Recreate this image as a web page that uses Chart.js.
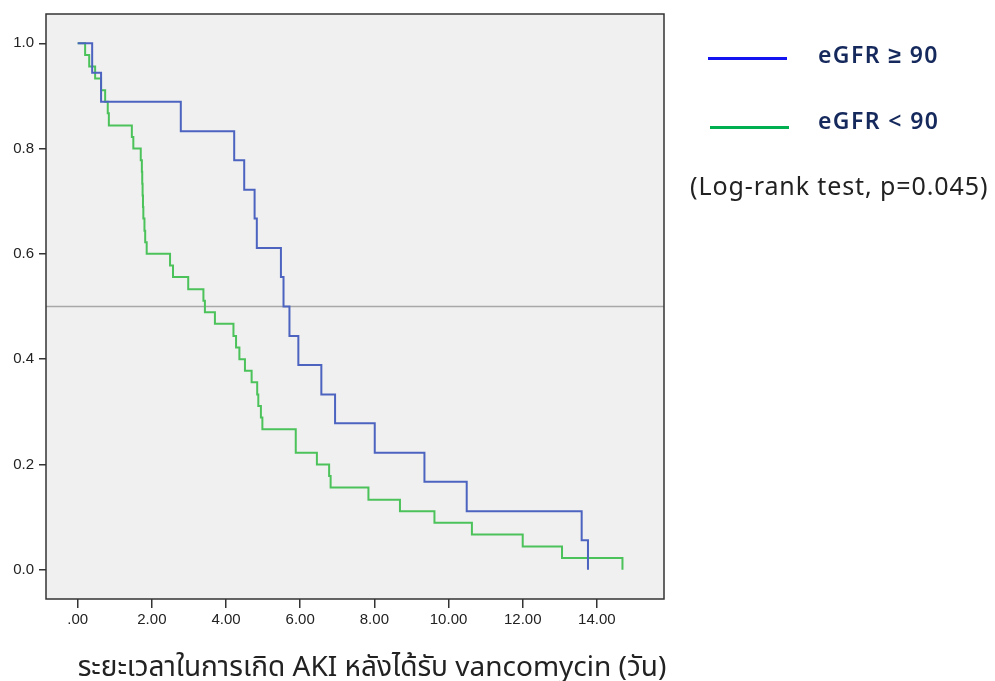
<!DOCTYPE html>
<html>
<head>
<meta charset="utf-8">
<script src="https://cdn.jsdelivr.net/npm/chart.js@4"></script>
<style>
  body { margin: 0; background: #fff; }
  #wrap { position: relative; width: 995px; height: 681px; }
  canvas { position: absolute; left: 0; top: 0; }
  .lg-line { position: absolute; height: 3px; }
  .lg-text { position: absolute; font-family: "Noto Sans", sans-serif; font-size: 23px; font-weight: 600; letter-spacing: 1.4px; color: #15295c; line-height: 28px; white-space: nowrap; }
  #logrank { position: absolute; left: 690px; top: 169px; font-family: "Noto Sans", sans-serif; font-size: 25px; letter-spacing: 0.9px; color: #222; line-height: 32px; white-space: nowrap; }
  #xtitle { position: absolute; left: 0; width: 744px; top: 647px; text-align: center; font-family: "Noto Sans", "Noto Sans Thai", sans-serif; font-size: 28px; color: #222; line-height: 36px; white-space: nowrap; }
</style>
</head>
<body>
<div id="wrap">
  <canvas id="km" width="995" height="681"></canvas>
  <div class="lg-line" style="left:708px; top:57px; width:79px; background:#1414f0;"></div>
  <div class="lg-text" style="left:818px; top:40px;">eGFR ≥ 90</div>
  <div class="lg-line" style="left:710px; top:126px; width:79px; background:#00b050;"></div>
  <div class="lg-text" style="left:818px; top:106px;">eGFR &lt; 90</div>
  <div id="logrank">(Log-rank test, p=0.045)</div>
  <div id="xtitle">ระยะเวลาในการเกิด AKI หลังได้รับ vancomycin (วัน)</div>
</div>
<script>
// survival times (days) and survival proportion after each event
const blueTimes = [0, 0.39, 0.63, 2.78, 4.22, 4.49, 4.77, 4.83, 5.48, 5.55, 5.71, 5.95, 6.57, 6.94, 8.01, 9.35, 10.49, 13.59, 13.76];
const blueSurv = [1.000, 0.944, 0.889, 0.833, 0.778, 0.722, 0.667, 0.611, 0.556, 0.500, 0.444, 0.389, 0.333, 0.278, 0.222, 0.167, 0.111, 0.056, 0.000];

const greenTimes = [0, 0.20, 0.31, 0.47, 0.63, 0.74, 0.81, 0.84, 1.46, 1.50, 1.70, 1.73, 1.74, 1.75, 1.76, 1.77, 1.80, 1.82, 1.86, 2.49, 2.57, 2.98, 3.39, 3.43, 3.70, 4.20, 4.27, 4.36, 4.51, 4.69, 4.84, 4.87, 4.94, 4.98, 5.88, 6.45, 6.78, 6.82, 7.84, 8.69, 9.62, 10.63, 12.00, 13.06, 14.69];
const greenSurv = [1.000, 0.978, 0.956, 0.933, 0.911, 0.889, 0.867, 0.844, 0.822, 0.800, 0.778, 0.756, 0.733, 0.711, 0.689, 0.667, 0.644, 0.622, 0.600, 0.578, 0.556, 0.533, 0.511, 0.489, 0.467, 0.444, 0.422, 0.400, 0.378, 0.356, 0.333, 0.311, 0.289, 0.267, 0.222, 0.200, 0.178, 0.156, 0.133, 0.111, 0.089, 0.067, 0.044, 0.022, 0.000];

const xTicks = [0, 2, 4, 6, 8, 10, 12, 14];
const xTickLabels = ['.00', '2.00', '4.00', '6.00', '8.00', '10.00', '12.00', '14.00'];
const yTicks = [0, 0.2, 0.4, 0.6, 0.8, 1.0];
const yTickLabels = ['0.0', '0.2', '0.4', '0.6', '0.8', '1.0'];
const refLine = 0.5;

const toPoints = (ts, ss) => ts.map((t, i) => ({x: t, y: ss[i]}));

const frame = {
  id: 'frame',
  beforeDraw(chart) {
    const {ctx, chartArea: a} = chart;
    ctx.save();
    ctx.fillStyle = '#f0f0f0';
    ctx.fillRect(a.left, a.top, a.right - a.left, a.bottom - a.top);
    ctx.restore();
  },
  beforeDatasetsDraw(chart) {
    const {ctx, chartArea: a, scales} = chart;
    const y = scales.y.getPixelForValue(refLine);
    ctx.save();
    ctx.strokeStyle = '#a8a8a8';
    ctx.lineWidth = 1.6;
    ctx.beginPath();
    ctx.moveTo(a.left, y);
    ctx.lineTo(a.right, y);
    ctx.stroke();
    ctx.restore();
  },
  afterDraw(chart) {
    const {ctx, chartArea: a} = chart;
    ctx.save();
    ctx.strokeStyle = '#333';
    ctx.lineWidth = 1.5;
    ctx.strokeRect(a.left, a.top, a.right - a.left, a.bottom - a.top);
    ctx.restore();
  }
};

new Chart(document.getElementById('km'), {
  type: 'line',
  data: {
    datasets: [
      {label: 'eGFR ≥ 90', data: toPoints(blueTimes, blueSurv), borderColor: '#4c63c0', borderWidth: 2, stepped: true, pointRadius: 0, fill: false},
      {label: 'eGFR < 90', data: toPoints(greenTimes, greenSurv), borderColor: '#4cc25a', borderWidth: 2, stepped: true, pointRadius: 0, fill: false}
    ]
  },
  options: {
    responsive: false,
    animation: false,
    devicePixelRatio: 1,
    layout: {padding: {left: 0, top: 14, right: 331, bottom: 0}},
    plugins: {legend: {display: false}, tooltip: {enabled: false}},
    scales: {
      x: {
        type: 'linear',
        min: -0.855,
        max: 15.81,
        afterFit(s) { s.height = 82; },
        afterBuildTicks(s) { s.ticks = xTicks.map(v => ({value: v})); },
        grid: {display: true, drawOnChartArea: false, drawTicks: true, tickLength: 9, color: '#333', lineWidth: 1.5},
        border: {display: false},
        ticks: {
          autoSkip: false, maxRotation: 0, padding: 3, color: '#222',
          font: {family: 'Liberation Sans, Arial, sans-serif', size: 15},
          callback: (v, i) => xTickLabels[i]
        }
      },
      y: {
        type: 'linear',
        min: -0.0557,
        max: 1.0557,
        afterFit(s) { s.width = 46; },
        afterBuildTicks(s) { s.ticks = yTicks.map(v => ({value: v})); },
        grid: {display: true, drawOnChartArea: false, drawTicks: true, tickLength: 7, color: '#333', lineWidth: 1.5},
        border: {display: false},
        ticks: {
          autoSkip: false, padding: 5, color: '#222',
          font: {family: 'Liberation Sans, Arial, sans-serif', size: 15},
          callback: (v, i) => yTickLabels[i]
        }
      }
    }
  },
  plugins: [frame]
});
</script>
</body>
</html>
